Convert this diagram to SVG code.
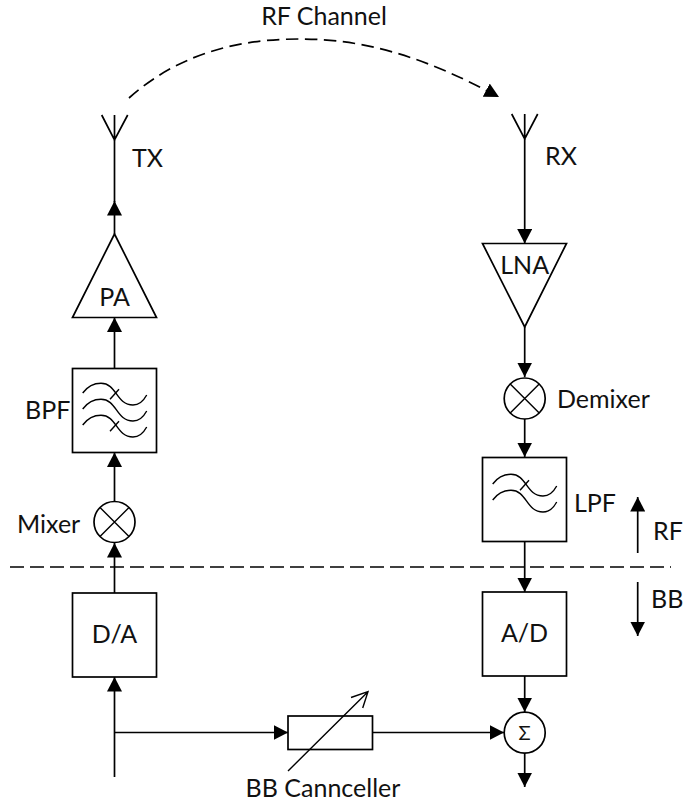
<svg xmlns="http://www.w3.org/2000/svg" width="685" height="804" viewBox="0 0 685 804">
<style>
.l{fill:none;stroke:#000;stroke-width:1.7}
.t{fill:none;stroke:#000;stroke-width:1.4}
text{font-family:"Lato","Open Sans",sans-serif;font-size:25px;fill:#111}
.m{text-anchor:middle}
</style>
<defs>
<marker id="a" markerUnits="userSpaceOnUse" markerWidth="15" markerHeight="15" refX="14.5" refY="7.5" orient="auto"><path d="M0 0L14.5 7.5L0 15Z" fill="#000"/></marker>
<path id="w" class="t" d="M82.7 393C88 386 95 383.3 101 383.3C117 383.3 116 405 133 405C140 405 144 400 146.7 395"/>
<path id="x" class="t" d="M110 399.3L119 389.3"/>
<g id="mx"><circle cx="0" cy="0" r="20.5" fill="#fff" stroke="#000" stroke-width="1.7"/><path class="t" d="M-14.5 -14.5L14.5 14.5M-14.5 14.5L14.5 -14.5"/></g>
</defs>
<g id="connectors">
<path class="l" style="stroke-dasharray:12.5 6.5" marker-end="url(#a)" d="M129 98C185 48 250 39 300 39C370 39 430 60 499 97"/>
<path class="l" marker-end="url(#a)" d="M114.5 234V201"/>
<path class="l" d="M114.5 140V202"/>
<path class="l" marker-end="url(#a)" d="M114.5 368V317.5"/>
<path class="l" marker-end="url(#a)" d="M114.5 501V452.5"/>
<path class="l" marker-end="url(#a)" d="M114.5 593V543"/>
<path class="l" marker-end="url(#a)" d="M114.5 777V677"/>
<path class="l" marker-end="url(#a)" d="M114.5 732.5H288"/>
<path class="l" marker-end="url(#a)" d="M372.5 732.5H504"/>
<path class="l" marker-end="url(#a)" d="M524.7 139V243.5"/>
<path class="l" marker-end="url(#a)" d="M524.7 327V377"/>
<path class="l" marker-end="url(#a)" d="M524.7 419V457"/>
<path class="l" marker-end="url(#a)" d="M524.7 541.5V592"/>
<path class="l" marker-end="url(#a)" d="M524.7 676V712"/>
<path class="l" marker-end="url(#a)" d="M524.7 753V787"/>
<path class="l" marker-end="url(#a)" d="M637.7 553V497"/>
<path class="l" marker-end="url(#a)" d="M637.7 582V636"/>
<path class="l" style="stroke-dasharray:14 6" d="M10 567H671"/>
</g>
<g id="tx-antenna"><path class="l" d="M101.7 115L114.5 140L127.7 115M114.5 115V140"/><text x="132" y="167">TX</text></g>
<g id="pa"><path class="l" fill="#fff" d="M114.5 234L156.5 317.5H72.5Z"/><text class="m" x="114.5" y="306">PA</text></g>
<g id="bpf"><rect class="l" x="72.5" y="368.5" width="84" height="84"/>
<use href="#w"/><use href="#w" y="16"/><use href="#w" y="32"/><use href="#x"/><use href="#x" y="32"/>
<text x="25" y="419">BPF</text></g>
<g id="mixer"><use href="#mx" x="114.5" y="522"/><text x="17" y="533">Mixer</text></g>
<g id="da"><rect class="l" x="72.5" y="593" width="84" height="84"/><text class="m" x="114.5" y="643">D/A</text></g>
<g id="rx-antenna"><path class="l" d="M511.7 114L524.7 139L537.7 114M524.7 114V139"/><text x="545" y="165">RX</text></g>
<g id="lna"><path class="l" d="M482.5 243.5H566.5L524.7 327Z"/><text class="m" x="524.7" y="274">LNA</text></g>
<g id="demixer"><use href="#mx" x="524.7" y="398.5"/><text x="557" y="408">Demixer</text></g>
<g id="lpf"><rect class="l" x="482.5" y="457.5" width="84" height="84"/>
<use href="#w" x="410" y="91"/><use href="#w" x="410" y="107"/><use href="#x" x="410" y="91"/>
<text x="574" y="512">LPF</text></g>
<g id="ad"><rect class="l" x="482.5" y="592" width="84" height="84"/><text class="m" x="524.5" y="642">A/D</text></g>
<g id="sum"><circle cx="524.7" cy="732.7" r="20.5" fill="#fff" stroke="#000" stroke-width="1.7"/><text class="m" style="font-size:20px" x="524.7" y="739.5">Σ</text></g>
<g id="canceller"><rect class="l" x="288" y="716" width="84.5" height="33.5"/>
<path class="t" d="M288 771L368 691.7M351 697.5L368 691.7L362.7 708"/>
<text class="m" x="323" y="797">BB Cannceller</text></g>
<g id="labels"><text class="m" x="324" y="25">RF Channel</text><text x="653" y="540">RF</text><text x="651" y="608">BB</text></g>
</svg>
